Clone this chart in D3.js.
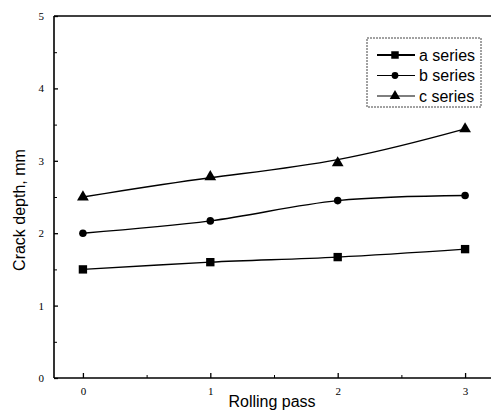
<!DOCTYPE html>
<html><head><meta charset="utf-8">
<script src="https://cdn.jsdelivr.net/npm/d3@7"></script>
<style>body{margin:0;background:#fff}svg{display:block}</style>
</head><body>
<svg id="c" width="491" height="419"></svg>
<script>
const passes = [0, 1, 2, 3];
const seriesA = [1.5, 1.6, 1.67, 1.78];
const seriesB = [2.0, 2.17, 2.45, 2.52];
const seriesC = [2.5, 2.78, 2.97, 3.44];
const seriesNames = ["a series", "b series", "c series"];
const yTicks = [0, 1, 2, 3, 4, 5];
const xTicks = [0, 1, 2, 3];

(function () {
const svg = d3.select("#c");
const mLeft = 54, mTop = 16, mBottom = 378, mRight = 494;
const x = d3.scaleLinear().domain([-0.227, 3.227]).range([mLeft, mRight]);
const y = d3.scaleLinear().domain([0, 5]).range([mBottom, mTop]);

const g = svg.append("g");
g.append("line").attr("x1", mLeft).attr("x2", mLeft).attr("y1", mTop).attr("y2", mBottom).attr("stroke", "#000").attr("stroke-width", 1.6);
g.append("line").attr("x1", mLeft).attr("x2", 491).attr("y1", mTop).attr("y2", mTop).attr("stroke", "#000").attr("stroke-width", 1.6);
g.append("line").attr("x1", mLeft).attr("x2", 491).attr("y1", mBottom).attr("y2", mBottom).attr("stroke", "#000").attr("stroke-width", 1.6);

const yAxis = d3.axisLeft(y).tickValues(yTicks).tickFormat(d3.format("d")).tickSize(-4).tickPadding(10);
const ya = svg.append("g").attr("transform", `translate(${mLeft},0)`).call(yAxis);
ya.select(".domain").remove();
ya.selectAll("text").attr("font-family", "Liberation Serif").attr("font-size", 11).attr("fill", "#000");
ya.selectAll("line").attr("stroke", "#000").attr("stroke-width", 1.3);
const yMinor = d3.axisLeft(y).tickValues([0.5, 1.5, 2.5, 3.5, 4.5]).tickFormat("").tickSize(-3);
const ym = svg.append("g").attr("transform", `translate(${mLeft},0)`).call(yMinor);
ym.select(".domain").remove();
ym.selectAll("line").attr("stroke", "#000");

const xAxis = d3.axisBottom(x).tickValues(xTicks).tickFormat(d3.format("d")).tickSize(-5).tickPadding(9);
const xa = svg.append("g").attr("transform", `translate(0,${mBottom})`).call(xAxis);
xa.select(".domain").remove();
xa.selectAll("text").attr("font-family", "Liberation Serif").attr("font-size", 11).attr("fill", "#000");
xa.selectAll("line").attr("stroke", "#000").attr("stroke-width", 1.3);
const xMinor = d3.axisBottom(x).tickValues([0.5, 1.5, 2.5]).tickFormat("").tickSize(-3);
const xm = svg.append("g").attr("transform", `translate(0,${mBottom})`).call(xMinor);
xm.select(".domain").remove();
xm.selectAll("line").attr("stroke", "#000");

svg.append("text").attr("x", 272).attr("y", 407).attr("text-anchor", "middle")
  .attr("font-family", "Liberation Sans").attr("font-size", 16).text("Rolling pass");
svg.append("text").attr("transform", "translate(25,210) rotate(-90)").attr("text-anchor", "middle")
  .attr("font-family", "Liberation Sans").attr("font-size", 16).text("Crack depth, mm");

const all = [seriesA, seriesB, seriesC];
const curves = [d3.curveCatmullRom.alpha(0.5), d3.curveCatmullRom.alpha(0.5), d3.curveBasis];
const symbols = [d3.symbolSquare, d3.symbolCircle, d3.symbolTriangle];
const sizes = [70, 45, 60];
all.forEach((s, k) => {
  const line = d3.line().x((d, i) => x(passes[i])).y(d => y(d)).curve(curves[k]);
  svg.append("path").datum(s).attr("d", line).attr("fill", "none").attr("stroke", "#000").attr("stroke-width", 1.4);
  svg.selectAll(null).data(s).enter().append("path")
    .attr("transform", (d, i) => `translate(${x(passes[i])},${y(d)})`)
    .attr("d", d3.symbol().type(symbols[k]).size(sizes[k])).attr("fill", "#000");
});

const lg = svg.append("g");
lg.append("rect").attr("x", 367).attr("y", 38).attr("width", 114).attr("height", 69)
  .attr("fill", "#fff").attr("stroke", "#444").attr("stroke-width", 1).attr("stroke-dasharray", "2,1");
seriesNames.forEach((n, k) => {
  const yy = 55 + k * 20.5;
  lg.append("line").attr("x1", 377).attr("x2", 415).attr("y1", yy).attr("y2", yy).attr("stroke", "#000").attr("stroke-width", k === 0 ? 2 : 1.2);
  lg.append("path").attr("transform", `translate(395,${yy})`).attr("d", d3.symbol().type(symbols[k]).size(sizes[k] * 0.8)).attr("fill", "#000");
  lg.append("text").attr("x", 419).attr("y", yy + 5.5).attr("font-family", "Liberation Sans").attr("font-size", 16).text(n);
});
})();
</script>
</body></html>
